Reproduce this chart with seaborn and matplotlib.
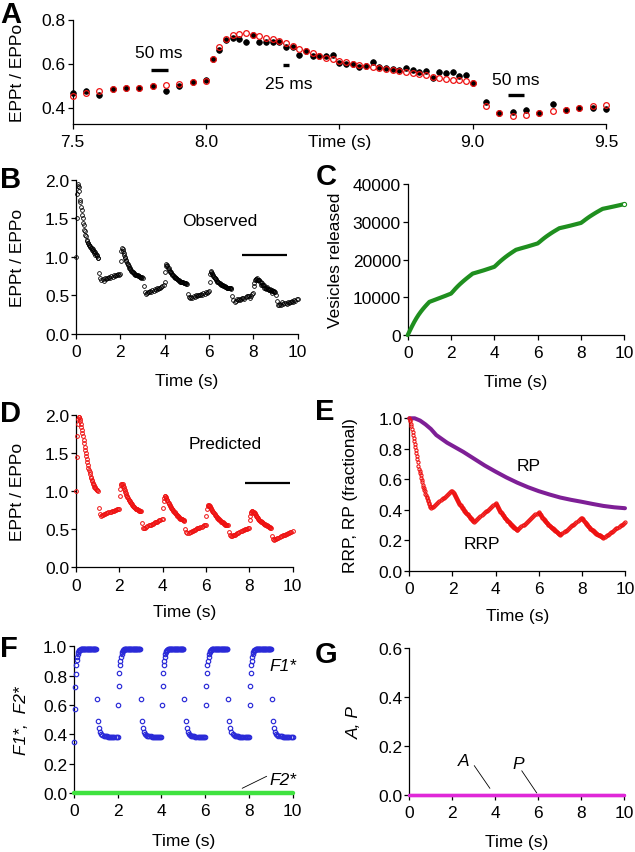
import numpy as np
import pandas as pd
import matplotlib
matplotlib.use("Agg")
import matplotlib.pyplot as plt
import seaborn as sns

# ---------------- data ----------------
# stimulation protocol: 5 cycles of 1 s at 40 Hz followed by 1 s at 20 Hz
N_CYCLES = 5
HIGH_DT = 0.025
LOW_DT = 0.05

# B: observed EPPt/EPPo  (first list starts with the t = 0 value)
b_h1 = [1.00, 1.50, 1.82, 1.92, 1.95, 1.90, 1.86, 1.74, 1.71, 1.64, 1.61, 1.54, 1.51, 1.44, 1.41, 1.35,
        1.33, 1.28, 1.27, 1.22, 1.21, 1.18, 1.18, 1.15, 1.16, 1.13, 1.14, 1.11, 1.12, 1.09, 1.10,
        1.07, 1.08, 1.05, 1.06, 1.03, 1.04, 1.01, 1.02, 0.99, 0.99]
b_l1 = [0.79, 0.72, 0.70, 0.71, 0.69, 0.72, 0.71, 0.73, 0.72, 0.74, 0.73, 0.75, 0.74, 0.76, 0.75,
        0.77, 0.76, 0.78, 0.77, 0.78]
b_h2 = [0.95, 1.07, 1.12, 1.10, 1.08, 1.05, 1.03, 1.00, 0.98, 0.96, 0.94, 0.92, 0.91, 0.89, 0.88,
        0.86, 0.85, 0.84, 0.83, 0.82, 0.81, 0.80, 0.80, 0.79, 0.78, 0.78, 0.77, 0.77, 0.76, 0.76,
        0.76, 0.75, 0.75, 0.75, 0.74, 0.74, 0.74, 0.73, 0.74, 0.73]
b_l2 = [0.62, 0.55, 0.52, 0.53, 0.55, 0.54, 0.56, 0.55, 0.57, 0.56, 0.58, 0.57, 0.59, 0.58, 0.60,
        0.59, 0.61, 0.62, 0.64, 0.67]
b_h3 = [0.80, 0.88, 0.91, 0.90, 0.88, 0.86, 0.85, 0.83, 0.82, 0.81, 0.80, 0.79, 0.78, 0.77, 0.76,
        0.75, 0.74, 0.74, 0.73, 0.72, 0.72, 0.71, 0.71, 0.70, 0.70, 0.69, 0.69, 0.68, 0.68, 0.68,
        0.67, 0.67, 0.67, 0.66, 0.66, 0.66, 0.66, 0.65, 0.66, 0.65]
b_l3 = [0.52, 0.48, 0.47, 0.48, 0.47, 0.49, 0.48, 0.50, 0.49, 0.50, 0.51, 0.50, 0.52, 0.51, 0.53,
        0.52, 0.54, 0.53, 0.55, 0.56]
b_h4 = [0.68, 0.78, 0.82, 0.81, 0.79, 0.78, 0.77, 0.75, 0.74, 0.73, 0.72, 0.71, 0.70, 0.69, 0.68,
        0.68, 0.67, 0.66, 0.66, 0.65, 0.65, 0.64, 0.64, 0.63, 0.63, 0.62, 0.62, 0.62, 0.61, 0.61,
        0.61, 0.60, 0.60, 0.60, 0.60, 0.59, 0.59, 0.59, 0.59, 0.58]
b_l4 = [0.49, 0.44, 0.42, 0.43, 0.45, 0.44, 0.45, 0.44, 0.46, 0.466, 0.473, 0.455, 0.482, 0.489,
        0.49, 0.498, 0.473, 0.498, 0.514, 0.525]
b_h5 = [0.62, 0.663, 0.705, 0.714, 0.711, 0.70, 0.729, 0.70, 0.70, 0.70, 0.70, 0.676, 0.673, 0.64,
        0.655, 0.636, 0.633, 0.633, 0.637, 0.601, 0.598, 0.60, 0.582, 0.59, 0.609, 0.582, 0.579,
        0.575, 0.569, 0.579, 0.569, 0.56, 0.566, 0.533, 0.562, 0.559, 0.562, 0.545, 0.55, 0.51]
b_l5 = [0.423, 0.376, 0.380, 0.389, 0.376, 0.415, 0.39, 0.40, 0.396, 0.394, 0.41, 0.40, 0.42,
        0.41, 0.43, 0.42, 0.44, 0.43, 0.45, 0.46]

# D: predicted EPPt/EPPo
d_h1 = [1.00, 1.45, 1.72, 1.88, 1.95, 1.98, 1.97, 1.95, 1.92, 1.88, 1.84, 1.80, 1.76, 1.72, 1.67,
        1.63, 1.58, 1.54, 1.50, 1.46, 1.42, 1.38, 1.34, 1.31, 1.28, 1.25, 1.22, 1.19, 1.17, 1.15,
        1.13, 1.11, 1.09, 1.08, 1.06, 1.05, 1.04, 1.03, 1.02, 1.01, 1.00]
d_l1 = [0.78, 0.70, 0.68, 0.685, 0.69, 0.70, 0.705, 0.71, 0.715, 0.72, 0.725, 0.73, 0.735, 0.74,
        0.745, 0.75, 0.755, 0.76, 0.765, 0.77]
d_h2 = [0.93, 1.03, 1.08, 1.10, 1.10, 1.09, 1.07, 1.05, 1.03, 1.01, 0.99, 0.97, 0.95, 0.94, 0.92,
        0.91, 0.89, 0.88, 0.87, 0.86, 0.85, 0.84, 0.83, 0.82, 0.81, 0.80, 0.79, 0.79, 0.78, 0.77,
        0.77, 0.76, 0.76, 0.75, 0.75, 0.75, 0.74, 0.74, 0.74, 0.74]
d_l2 = [0.58, 0.52, 0.51, 0.52, 0.53, 0.54, 0.55, 0.555, 0.56, 0.57, 0.575, 0.58, 0.59, 0.595,
        0.60, 0.61, 0.615, 0.62, 0.63, 0.635]
d_h3 = [0.78, 0.87, 0.91, 0.93, 0.93, 0.92, 0.91, 0.89, 0.88, 0.86, 0.85, 0.83, 0.82, 0.81, 0.79,
        0.78, 0.77, 0.76, 0.75, 0.74, 0.73, 0.72, 0.71, 0.70, 0.70, 0.69, 0.68, 0.67, 0.67, 0.66,
        0.65, 0.65, 0.64, 0.64, 0.63, 0.63, 0.62, 0.62, 0.62, 0.61]
d_l3 = [0.50, 0.46, 0.45, 0.455, 0.46, 0.47, 0.475, 0.48, 0.49, 0.495, 0.50, 0.51, 0.515, 0.52,
        0.53, 0.535, 0.54, 0.55, 0.555, 0.56]
d_h4 = [0.68, 0.76, 0.80, 0.82, 0.82, 0.81, 0.80, 0.79, 0.78, 0.77, 0.75, 0.74, 0.73, 0.72, 0.71,
        0.70, 0.69, 0.68, 0.67, 0.66, 0.65, 0.65, 0.64, 0.63, 0.62, 0.62, 0.61, 0.60, 0.60, 0.59,
        0.59, 0.58, 0.58, 0.57, 0.57, 0.56, 0.56, 0.56, 0.55, 0.55]
d_l4 = [0.46, 0.42, 0.41, 0.415, 0.42, 0.425, 0.43, 0.435, 0.445, 0.453, 0.466, 0.475, 0.482,
        0.489, 0.49, 0.498, 0.504, 0.505, 0.514, 0.52]
d_h5 = [0.62, 0.676, 0.71, 0.729, 0.736, 0.738, 0.73, 0.725, 0.718, 0.71, 0.703, 0.691, 0.68,
        0.666, 0.655, 0.648, 0.633, 0.626, 0.62, 0.612, 0.607, 0.60, 0.594, 0.59, 0.584, 0.578,
        0.575, 0.569, 0.565, 0.562, 0.556, 0.551, 0.546, 0.54, 0.536, 0.531, 0.527, 0.524, 0.521,
        0.51]
d_l5 = [0.408, 0.376, 0.361, 0.366, 0.376, 0.382, 0.39, 0.40, 0.408, 0.412, 0.418, 0.424, 0.43,
        0.436, 0.442, 0.448, 0.454, 0.46, 0.466, 0.472]

# E: RRP (fractional)
r_h1 = [1.00, 0.99, 0.98, 0.965, 0.95, 0.93, 0.91, 0.89, 0.87, 0.85, 0.83, 0.81, 0.79, 0.77, 0.75,
        0.73, 0.71, 0.69, 0.67, 0.655, 0.64, 0.625, 0.61, 0.595, 0.58, 0.565, 0.55, 0.54, 0.53,
        0.52, 0.505, 0.495, 0.485, 0.475, 0.465, 0.455, 0.445, 0.435, 0.425, 0.418, 0.41]
r_l1 = [0.415, 0.42, 0.426, 0.432, 0.438, 0.444, 0.45, 0.456, 0.462, 0.468, 0.474, 0.48, 0.486,
        0.492, 0.498, 0.504, 0.51, 0.515, 0.52, 0.525]
r_h2 = [0.517, 0.510, 0.503, 0.496, 0.489, 0.482, 0.475, 0.469, 0.463, 0.457, 0.451, 0.445, 0.439,
        0.434, 0.429, 0.424, 0.419, 0.414, 0.409, 0.404, 0.399, 0.394, 0.389, 0.385, 0.381, 0.377,
        0.373, 0.369, 0.365, 0.361, 0.357, 0.353, 0.349, 0.345, 0.341, 0.337, 0.333, 0.329, 0.325,
        0.321]
r_l2 = [0.327, 0.333, 0.34, 0.346, 0.352, 0.358, 0.364, 0.37, 0.377, 0.383, 0.389, 0.395, 0.401,
        0.408, 0.414, 0.42, 0.426, 0.432, 0.439, 0.445]
r_h3 = [0.438, 0.431, 0.424, 0.418, 0.412, 0.406, 0.400, 0.394, 0.388, 0.383, 0.378, 0.373, 0.368,
        0.363, 0.358, 0.353, 0.349, 0.345, 0.341, 0.337, 0.333, 0.329, 0.325, 0.321, 0.317, 0.313,
        0.309, 0.306, 0.303, 0.300, 0.296, 0.292, 0.288, 0.285, 0.282, 0.279, 0.276, 0.273, 0.270,
        0.267]
r_l3 = [0.273, 0.279, 0.285, 0.291, 0.297, 0.303, 0.309, 0.315, 0.321, 0.327, 0.333, 0.339, 0.345,
        0.351, 0.357, 0.363, 0.369, 0.375, 0.381, 0.387]
r_h4 = [0.381, 0.375, 0.369, 0.364, 0.359, 0.354, 0.349, 0.344, 0.339, 0.334, 0.330, 0.326, 0.322,
        0.318, 0.314, 0.310, 0.306, 0.302, 0.298, 0.295, 0.292, 0.289, 0.286, 0.283, 0.280, 0.277,
        0.274, 0.271, 0.268, 0.265, 0.262, 0.259, 0.256, 0.253, 0.250, 0.247, 0.244, 0.241, 0.238,
        0.235]
r_l4 = [0.241, 0.246, 0.252, 0.258, 0.263, 0.269, 0.275, 0.280, 0.286, 0.292, 0.297, 0.303, 0.309,
        0.314, 0.320, 0.326, 0.331, 0.337, 0.343, 0.348]
r_h5 = [0.342, 0.337, 0.332, 0.327, 0.322, 0.317, 0.312, 0.308, 0.304, 0.300, 0.296, 0.292, 0.288,
        0.284, 0.280, 0.276, 0.273, 0.270, 0.267, 0.264, 0.261, 0.258, 0.255, 0.252, 0.249, 0.246,
        0.243, 0.241, 0.239, 0.237, 0.235, 0.233, 0.231, 0.229, 0.227, 0.225, 0.223, 0.221, 0.219,
        0.217]
r_l5 = [0.222, 0.227, 0.232, 0.237, 0.242, 0.247, 0.252, 0.257, 0.262, 0.268, 0.273, 0.278, 0.283,
        0.288, 0.293, 0.298, 0.303, 0.308, 0.313, 0.318]

# E: RP (fractional)
rp_time = [0, 0.25, 0.5, 0.75, 1.0, 1.25, 1.5, 1.75, 2.0, 2.5, 3.0, 3.5, 4.0, 4.5, 5.0, 5.5, 6.0,
           6.5, 7.0, 7.5, 8.0, 8.5, 9.0, 9.5, 10.0]
rp_vals = [1.0, 1.0, 0.985, 0.96, 0.93, 0.89, 0.865, 0.84, 0.82, 0.78, 0.735, 0.69, 0.65, 0.612,
           0.578, 0.548, 0.522, 0.50, 0.48, 0.465, 0.452, 0.438, 0.425, 0.416, 0.41]

# C: cumulative vesicles released
c_time = [0, 0.1, 0.2, 0.3, 0.4, 0.5, 0.6, 0.7, 0.8, 0.9, 1.0, 1.25, 1.5, 1.75, 2.0,
          2.1, 2.2, 2.3, 2.4, 2.5, 2.6, 2.7, 2.8, 2.9, 3.0, 3.25, 3.5, 3.75, 4.0,
          4.1, 4.2, 4.3, 4.4, 4.5, 4.6, 4.7, 4.8, 4.9, 5.0, 5.25, 5.5, 5.75, 6.0,
          6.1, 6.2, 6.3, 6.4, 6.5, 6.6, 6.7, 6.8, 6.9, 7.0, 7.25, 7.5, 7.75, 8.0,
          8.1, 8.2, 8.3, 8.4, 8.5, 8.6, 8.7, 8.8, 8.9, 9.0, 9.25, 9.5, 9.75, 10.0]
c_vals = [0, 1200, 2350, 3450, 4450, 5350, 6150, 6880, 7550, 8180, 8790, 9330, 9870, 10420, 10990,
          11610, 12260, 12860, 13420, 13940, 14440, 14920, 15380, 15830, 16280, 16700, 17130, 17600,
          18080, 18600, 19150, 19660, 20140, 20600, 21030, 21440, 21830, 22210, 22580, 23000, 23400,
          23830, 24270, 24730, 25210, 25670, 26100, 26500, 26890, 27260, 27610, 27950, 28290, 28620,
          28960, 29330, 29700, 30110, 30550, 30970, 31370, 31740, 32100, 32450, 32780, 33110, 33420,
          33720, 34030, 34350, 34680]

# F: F1* (first high list includes t = 0); each later cycle looks identical
f1_first_high = [0.35, 0.57, 0.72, 0.81, 0.87, 0.91, 0.93, 0.95, 0.96, 0.968, 0.974, 0.978, 0.981,
                 0.983, 0.984, 0.985, 0.985, 0.985, 0.985, 0.985, 0.985, 0.985, 0.985, 0.985, 0.985,
                 0.985, 0.985, 0.985, 0.985, 0.985, 0.985, 0.985, 0.985, 0.985, 0.985, 0.985, 0.985,
                 0.985, 0.985, 0.985, 0.985]
f1_high = [0.60, 0.73, 0.82, 0.87, 0.90, 0.93, 0.95, 0.96, 0.968, 0.974, 0.978, 0.981, 0.983, 0.984,
           0.985, 0.985, 0.985, 0.985, 0.985, 0.985, 0.985, 0.985, 0.985, 0.985, 0.985, 0.985, 0.985,
           0.985, 0.985, 0.985, 0.985, 0.985, 0.985, 0.985, 0.985, 0.985, 0.985, 0.985, 0.985, 0.985]
f1_low = [0.64, 0.49, 0.44, 0.418, 0.402, 0.394, 0.39, 0.388, 0.387, 0.386, 0.385, 0.385, 0.385,
          0.385, 0.385, 0.385, 0.385, 0.385, 0.385, 0.385]
# F2*, A and P stay at zero over the whole train
flat_time = [0, 2, 4, 6, 8, 10]
f2_vals = [0.0, 0.0, 0.0, 0.0, 0.0, 0.0]
a_vals = [0.0, 0.0, 0.0, 0.0, 0.0, 0.0]
p_vals = [0.0, 0.0, 0.0, 0.0, 0.0, 0.0]

# ---------------- assemble series on the stimulus time grid ----------------
times = [0.0]
for k in range(N_CYCLES):
    times += [2 * k + HIGH_DT * j for j in range(1, 41)]
    times += [2 * k + 1 + LOW_DT * j for j in range(1, 21)]
times = np.round(np.array(times), 4)

obs = np.array(b_h1 + b_l1 + b_h2 + b_l2 + b_h3 + b_l3 + b_h4 + b_l4 + b_h5 + b_l5)
pred = np.array(d_h1 + d_l1 + d_h2 + d_l2 + d_h3 + d_l3 + d_h4 + d_l4 + d_h5 + d_l5)
rrp = np.array(r_h1 + r_l1 + r_h2 + r_l2 + r_h3 + r_l3 + r_h4 + r_l4 + r_h5 + r_l5)
f1 = np.array(f1_first_high + f1_low + (f1_high + f1_low) * (N_CYCLES - 1))

df = pd.DataFrame({"t": times, "obs": obs, "pred": pred, "rrp": rrp, "f1": f1})
dfa = df[(df.t >= 7.5 - 1e-6) & (df.t <= 9.5 + 1e-6)]

# ---------------- style ----------------
sns.set_theme(style="ticks")
plt.rcParams["font.family"] = ["Liberation Sans", "DejaVu Sans"]
plt.rcParams.update({
    "axes.linewidth": 0.9, "axes.edgecolor": "black",
    "xtick.major.width": 0.9, "ytick.major.width": 0.9,
    "xtick.major.size": 3.4, "ytick.major.size": 3.4,
    "xtick.direction": "out", "ytick.direction": "out",
    "xtick.color": "black", "ytick.color": "black",
    "xtick.labelsize": 12.5, "ytick.labelsize": 12.5,
    "axes.labelsize": 12.5, "text.color": "black", "axes.labelcolor": "black",
})

W, H = 635, 853
fig = plt.figure(figsize=(W / 100, H / 100), dpi=100)

RED = "#ee1111"
BLUE = "#2a2ad8"
GREEN = "#1f8f1f"
LIME = "#3fe23f"
PURPLE = "#7e1f96"
MAGENTA = "#e028d8"


def axes_px(box):
    x0, x1, yt, yb = box
    ax = fig.add_axes([x0 / W, 1 - yb / H, (x1 - x0) / W, (yb - yt) / H])
    sns.despine(ax=ax)
    ax.tick_params(axis="x", pad=4)
    ax.tick_params(axis="y", pad=1.5)
    ax.set_facecolor("none")
    return ax


def labels(ax, box, xlabel, ylabel, xlab_y, ylab_x, italic=False):
    x0, x1, yt, yb = box
    if xlabel:
        ax.set_xlabel(xlabel, va="center")
        ax.xaxis.set_label_coords(0.5, (yb - xlab_y) / (yb - yt))
    ax.set_ylabel(ylabel, va="center", style="italic" if italic else "normal")
    ax.yaxis.set_label_coords((ylab_x - x0) / (x1 - x0), 0.5)


def dots(ax, data, x, y, color, ms, mew, filled=False, z=3):
    sns.lineplot(data=data, x=x, y=y, ax=ax, estimator=None, sort=False, linestyle="none",
                 marker="o", markersize=ms, markeredgewidth=mew,
                 markerfacecolor=(color if filled else "none"), markeredgecolor=color,
                 color=color, clip_on=False, zorder=z, legend=False)


def curve(ax, x, y, color, lw, z=3):
    sns.lineplot(x=x, y=y, ax=ax, estimator=None, sort=False, color=color, linewidth=lw,
                 clip_on=False, zorder=z, legend=False, solid_capstyle="round")


def letter(s, x, ybase):
    fig.text(x / W, 1 - ybase / H, s, fontsize=21, fontweight="bold", ha="left", va="baseline")


time_ticks = [0, 2, 4, 6, 8, 10]

# ---------------- A ----------------
boxA = (72.5, 606, 20.5, 125)
axA = axes_px(boxA)
dots(axA, dfa, "t", "obs", "black", 4.1, 0.5, filled=True, z=3)
dots(axA, dfa, "t", "pred", RED, 4.1, 0.9, filled=False, z=4)
axA.set_xlim(7.5, 9.5)
axA.set_ylim(0.325, 0.8)
axA.set_xticks([7.5, 8.0, 8.5, 9.0, 9.5])
axA.set_xticklabels(["7.5", "8.0", "Time (s)", "9.0", "9.5"])
axA.set_yticks([0.4, 0.6, 0.8])
axA.set_yticklabels(["0.4", "0.6", "0.8"])
axA.set_xlabel("")
axA.set_ylabel("EPPt / EPPo", va="center")
axA.yaxis.set_label_coords((18 - 72.5) / (606 - 72.5), 0.5)
axA.plot([7.795, 7.857], [0.570, 0.570], color="black", lw=2.4, solid_capstyle="butt")
axA.plot([8.288, 8.312], [0.593, 0.593], color="black", lw=2.4, solid_capstyle="butt")
axA.plot([9.133, 9.194], [0.458, 0.458], color="black", lw=2.4, solid_capstyle="butt")
axA.text(7.825, 0.649, "50 ms", ha="center", va="center", fontsize=12.5)
axA.text(8.311, 0.511, "25 ms", ha="center", va="center", fontsize=12.5)
axA.text(9.163, 0.526, "50 ms", ha="center", va="center", fontsize=12.5)

# ---------------- B ----------------
boxB = (76, 297.7, 180.7, 335)
axB = axes_px(boxB)
dots(axB, df, "t", "obs", "black", 2.7, 0.6)
axB.set_xlim(0, 10)
axB.set_ylim(0, 2)
axB.set_xticks(time_ticks)
axB.set_yticks([0, 0.5, 1.0, 1.5, 2.0])
axB.set_yticklabels(["0.0", "0.5", "1.0", "1.5", "2.0"])
labels(axB, boxB, "Time (s)", "EPPt / EPPo", 381.7, 18)
axB.plot([7.5, 9.5], [1.02, 1.02], color="black", lw=1.6, solid_capstyle="butt")
axB.text(6.5, 1.47, "Observed", ha="center", va="center", fontsize=12.5)

# ---------------- C ----------------
boxC = (407.7, 624.3, 185, 336.1)
axC = axes_px(boxC)
curve(axC, c_time, c_vals, GREEN, 3.0)
axC.plot(c_time[-1:], c_vals[-1:], "o", ms=3, mfc="white", mec=GREEN, mew=0.8, clip_on=False,
         zorder=5)
axC.set_xlim(0, 10)
axC.set_ylim(0, 40000)
axC.set_xticks(time_ticks)
axC.set_yticks([0, 10000, 20000, 30000, 40000])
axC.set_yticklabels(["0", "10000", "20000", "30000", "40000"])
labels(axC, boxC, "Time (s)", "Vesicles released", 383, 335)

# ---------------- D ----------------
boxD = (76, 292.5, 416, 568.3)
axD = axes_px(boxD)
dots(axD, df, "t", "pred", RED, 2.7, 0.7)
axD.set_xlim(0, 10)
axD.set_ylim(0, 2)
axD.set_xticks(time_ticks)
axD.set_yticks([0, 0.5, 1.0, 1.5, 2.0])
axD.set_yticklabels(["0.0", "0.5", "1.0", "1.5", "2.0"])
labels(axD, boxD, "Time (s)", "EPPt / EPPo", 613, 18)
axD.plot([7.8, 9.88], [1.105, 1.105], color="black", lw=1.6, solid_capstyle="butt")
axD.text(6.9, 1.63, "Predicted", ha="center", va="center", fontsize=12.5)

# ---------------- E ----------------
boxE = (409.3, 625, 419.3, 571.7)
axE = axes_px(boxE)
curve(axE, rp_time, rp_vals, PURPLE, 2.9)
dots(axE, df, "t", "rrp", RED, 2.3, 0.75)
axE.set_xlim(0, 10)
axE.set_ylim(0, 1)
axE.set_xticks(time_ticks)
axE.set_yticks([0, 0.2, 0.4, 0.6, 0.8, 1.0])
axE.set_yticklabels(["0.0", "0.2", "0.4", "0.6", "0.8", "1.0"])
labels(axE, boxE, "Time (s)", "RRP, RP (fractional)", 616.5, 350)
axE.text(5.55, 0.69, "RP", ha="center", va="center", fontsize=12.5)
axE.text(3.35, 0.18, "RRP", ha="center", va="center", fontsize=12.5)

# ---------------- F ----------------
boxF = (74, 292.7, 647.3, 794)
axF = axes_px(boxF)
curve(axF, flat_time, f2_vals, LIME, 3.2, z=3)
dots(axF, df, "t", "f1", BLUE, 3.2, 0.85, z=4)
axF.set_xlim(0, 10)
axF.set_ylim(0, 1)
axF.set_xticks(time_ticks)
axF.set_yticks([0, 0.2, 0.4, 0.6, 0.8, 1.0])
axF.set_yticklabels(["0.0", "0.2", "0.4", "0.6", "0.8", "1.0"])
labels(axF, boxF, "Time (s)", "F1*,  F2*", 841.5, 21.7, italic=True)
axF.text(9.57, 0.868, "F1*", ha="center", va="center", fontsize=12.5, style="italic")
axF.text(9.57, 0.095, "F2*", ha="center", va="center", fontsize=12.5, style="italic")
axF.plot([7.69, 8.81], [0.032, 0.114], color="black", lw=0.6)

# ---------------- G ----------------
boxG = (409.3, 624.3, 649, 796)
axG = axes_px(boxG)
curve(axG, flat_time, a_vals, MAGENTA, 2.4)
curve(axG, flat_time, p_vals, MAGENTA, 2.4)
axG.set_xlim(0, 10)
axG.set_ylim(0, 0.6)
axG.set_xticks(time_ticks)
axG.set_yticks([0, 0.2, 0.4, 0.6])
axG.set_yticklabels(["0.0", "0.2", "0.4", "0.6"])
labels(axG, boxG, "Time (s)", "A, P", 843, 354, italic=True)
axG.text(2.51, 0.14, "A", ha="center", va="center", fontsize=12.5, style="italic")
axG.text(5.07, 0.127, "P", ha="center", va="center", fontsize=12.5, style="italic")
axG.plot([3.02, 3.75], [0.12, 0.027], color="black", lw=0.6)
axG.plot([5.23, 5.93], [0.099, 0.008], color="black", lw=0.6)

# ---------------- panel letters ----------------
letter("A", 0, 23)
letter("B", 0, 188)
letter("C", 316, 185)
letter("D", 0, 422)
letter("E", 315, 420)
letter("F", 0, 657)
letter("G", 315, 663)

fig.savefig("out.png", dpi=100)
